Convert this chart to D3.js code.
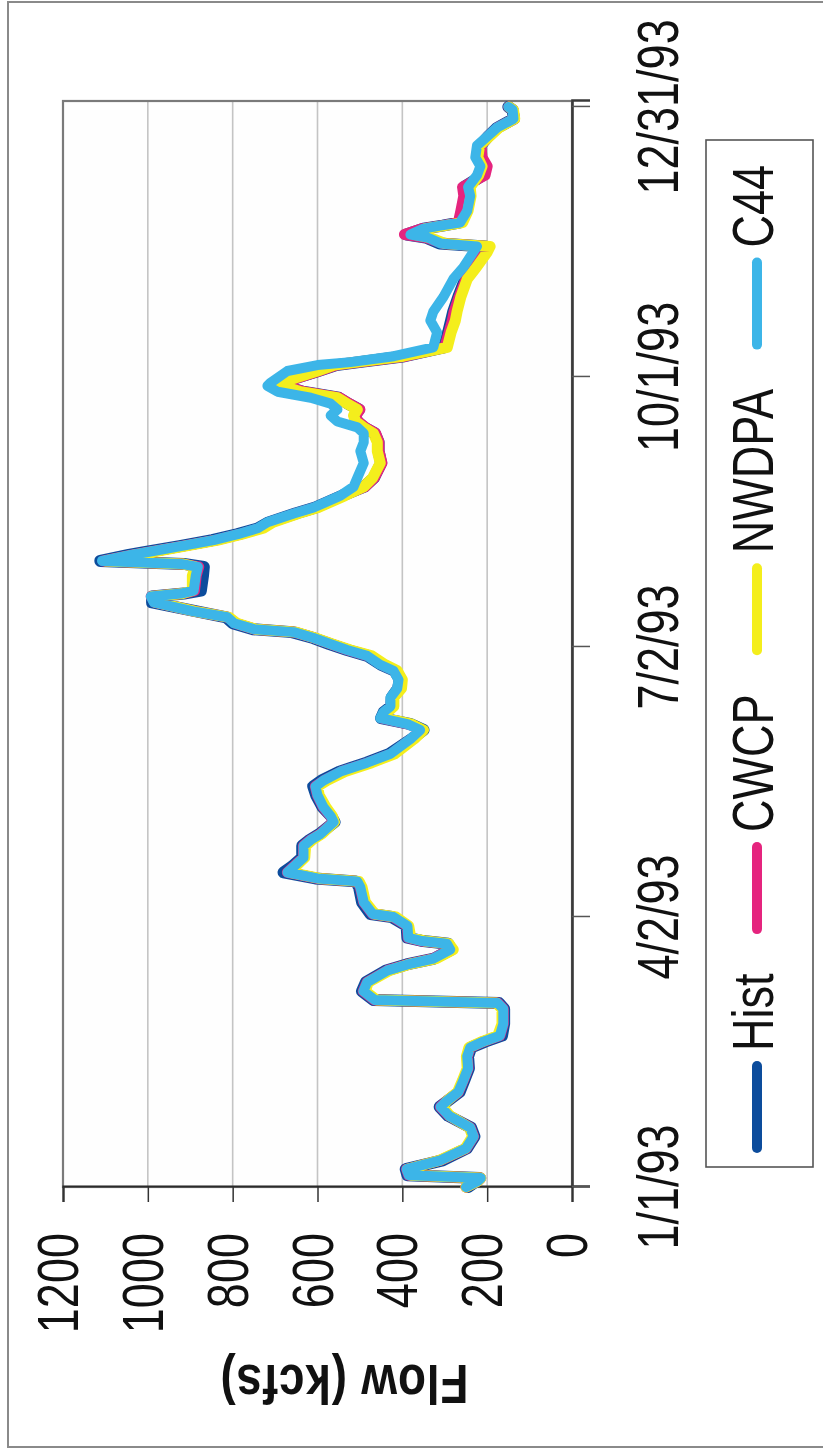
<!DOCTYPE html>
<html><head><meta charset="utf-8">
<script src="https://cdn.jsdelivr.net/npm/d3@7"></script>
<style>html,body{margin:0;padding:0;background:#fff;} svg{display:block}</style>
</head><body>
<svg id="c" width="823" height="1449"></svg>
<script>
// ---- data (day offsets from 1/1/93, flow in kcfs) ----
const dayOffsets = [
  0,2,3,4,6,9,13,17,20,24,
  27,29,32,36,40,44,47,49,51,55,
  60,62,63,66,69,73,75,77,80,82,
  83,84,88,91,92,96,101,103,104,106,
  108,111,115,117,119,123,125,128,132,135,
  137,140,143,146,151,154,156,158,160,162,
  165,168,171,174,176,179,181,183,185,187,
  188,190,192,194,197,199,200,201,206,209,
  210,211,213,214,216,218,220,222,224,227,
  229,233,236,239,244,248,251,254,256,258,
  260,262,264,266,268,270,271,275,277,278,
  280,283,288,292,295,300,306,310,315,317,
  318,320,321,323,324,325,329,334,337,341,
  344,347,351,354,357,360,363,364
];
const histValues = [
  245,225,218,388,392,305,248,230,238,292,
  312,293,265,254,243,245,238,205,165,160,
  160,172,468,495,486,438,390,325,285,292,
  356,388,390,425,475,495,502,510,605,680,
  660,636,636,618,595,560,568,588,603,610,
  590,548,484,430,378,350,380,450,444,426,
  425,410,406,418,450,482,530,572,610,660,
  752,800,815,885,990,990,915,875,870,868,
  915,1112,1045,1005,925,848,790,740,715,652,
  605,542,490,467,450,456,456,465,490,506,
  512,502,528,550,635,680,688,598,556,502,
  395,302,292,285,280,268,252,232,210,205,
  312,345,390,350,305,266,258,252,255,210,
  205,215,216,198,176,137,140,150
];
const cwcpValues = [
  250,222,215,385,390,310,250,232,240,290,
  310,295,268,256,245,247,240,209,170,162,
  162,175,465,492,483,435,388,327,287,295,
  358,386,388,421,470,491,499,506,600,671,
  656,633,633,616,593,562,569,586,600,605,
  584,543,480,425,378,355,385,448,441,424,
  424,408,405,417,448,480,528,568,607,654,
  748,794,810,888,983,992,918,890,886,880,
  920,1105,1036,996,918,840,782,735,712,650,
  603,540,488,466,448,455,455,463,487,505,
  510,500,525,548,632,676,684,596,555,500,
  392,300,290,282,278,266,250,230,206,198,
  305,345,395,352,305,268,262,255,258,205,
  200,212,215,198,175,136,139,149
];
const nwdpaValues = [
  250,222,215,380,388,312,252,234,242,288,
  305,295,270,258,247,249,243,212,175,165,
  165,178,460,488,480,430,385,320,280,290,
  350,380,385,415,465,487,495,502,595,665,
  652,630,628,612,590,560,565,580,596,600,
  578,535,472,418,372,350,378,440,436,420,
  420,402,400,412,440,472,522,565,605,650,
  745,790,808,888,980,990,918,895,895,888,
  918,1100,1030,990,912,835,778,728,705,645,
  598,535,491,470,452,459,459,468,491,510,
  515,506,530,553,640,682,690,600,560,506,
  398,294,285,275,271,262,247,225,200,193,
  300,335,370,345,300,258,245,238,240,220,
  212,222,218,195,172,135,138,148
];
const c44Values = [
  250,222,215,385,390,310,250,232,240,290,
  310,295,268,256,245,247,240,209,170,162,
  162,175,465,492,483,435,388,327,287,295,
  358,386,388,421,470,491,499,506,600,671,
  656,633,633,616,593,562,569,586,600,605,
  586,546,483,428,381,358,388,452,445,428,
  428,412,409,421,452,483,530,570,609,656,
  750,797,812,892,986,993,922,892,887,882,
  922,1108,1040,1000,922,845,788,741,718,656,
  609,546,515,506,491,499,491,491,506,553,
  569,553,569,616,694,718,711,671,600,522,
  420,327,318,334,327,303,280,256,233,224,
  310,341,381,350,310,264,247,240,245,224,
  216,228,224,200,177,138,140,150
];
const seriesNames = ["Hist", "CWCP", "NWDPA", "C44"];
const seriesColors = ["#0c4c9c", "#e5247e", "#f4ee1c", "#3cb5e8"];
const flowTicks = [0, 200, 400, 600, 800, 1000, 1200];
const dateTickLabels = ["1/1/93", "4/2/93", "7/2/93", "10/1/93", "12/31/93"];
const yAxisTitle = "Flow (kcfs)";

// ---- layout (drawn in landscape, then rotated -90deg) ----
const W = 1449, H = 823;
const plot = {left: 262, right: 1348, top: 63, bottom: 572};
const FONT = "'Liberation Sans', Arial, Helvetica, sans-serif";
const SQ = 0.79; // condensed type

const svg = d3.select("#c");
svg.append("rect").attr("width", 823).attr("height", 1449).attr("fill", "#fff");
const root = svg.append("g").attr("transform", `translate(0,${W}) rotate(-90)`);

// outer frame
root.append("rect").attr("x", 2).attr("y", 8).attr("width", 1445).attr("height", 840)
  .attr("fill", "none").attr("stroke", "#8a8a8a").attr("stroke-width", 2);

const parseDate = d3.timeParse("%m/%d/%y");
const start = new Date(1993, 0, 1);
const x = d3.scaleTime().domain([start, new Date(1994, 0, 2)]).range([plot.left, plot.right]);
const y = d3.scaleLinear().domain([0, 1200]).range([plot.bottom, plot.top]);

// plot background + gridlines
root.append("rect").attr("x", plot.left).attr("y", plot.top)
  .attr("width", plot.right - plot.left).attr("height", plot.bottom - plot.top)
  .attr("fill", "#fefefe");
root.append("g").selectAll("line").data(flowTicks.filter(t => t > 0 && t < 1200)).join("line")
  .attr("x1", plot.left).attr("x2", plot.right)
  .attr("y1", d => y(d)).attr("y2", d => y(d))
  .attr("stroke", "#c4c4c4").attr("stroke-width", 1.6);
root.append("rect").attr("x", plot.left).attr("y", plot.top)
  .attr("width", plot.right - plot.left).attr("height", plot.bottom - plot.top)
  .attr("fill", "none").attr("stroke", "#7a7a7a").attr("stroke-width", 2.2);

// axes
const yAxis = d3.axisLeft(y).tickValues(flowTicks).tickSize(15).tickFormat("");
const gy = root.append("g").attr("transform", `translate(${plot.left},0)`).call(yAxis);
gy.select(".domain").attr("stroke", "#2a2a2a").attr("stroke-width", 2.2);
gy.selectAll(".tick line").attr("stroke", "#333").attr("stroke-width", 1.5);

const dateTicks = dateTickLabels.map(parseDate);
const xAxis = d3.axisBottom(x).tickValues(dateTicks).tickSize(18).tickFormat("");
const gx = root.append("g").attr("transform", `translate(0,${plot.bottom})`).call(xAxis);
gx.select(".domain").attr("stroke", "#3a3a3a").attr("stroke-width", 2.6);
gx.selectAll(".tick line").attr("stroke", "#555").attr("stroke-width", 1.5);

function ctext(parent, tx, ty, str, size, anchor, opts = {}) {
  const g = parent.append("g").attr("transform", `translate(${tx},${ty})` + (opts.rotate ? ` rotate(${opts.rotate})` : ""));
  const t = g.append("text").attr("transform", `scale(${opts.sq || SQ},1)`)
    .attr("text-anchor", anchor).attr("font-family", FONT).attr("font-size", size)
    .attr("font-weight", opts.bold ? "bold" : "normal").attr("fill", "#111").text(str);
  return t;
}

// tick labels
flowTicks.forEach(v => ctext(root, 216, y(v) + 15, String(v), 57, "end"));
dateTickLabels.forEach((s, i) => ctext(root, x(dateTicks[i]), 678, s, 57, "middle"));

// axis title
ctext(root, 84, 344, yAxisTitle, 56, "middle", {rotate: -90, bold: true, sq: 0.82})
  .attr("letter-spacing", 1);

// series
const seriesValues = [histValues, cwcpValues, nwdpaValues, c44Values];
const widths = [12, 11, 11, 10];
const line = d3.line().x(d => x(d.date)).y(d => y(d.v));
seriesValues.forEach((vals, k) => {
  const data = dayOffsets.map((d, i) => ({date: d3.timeDay.offset(start, d), v: vals[i]}));
  root.append("path").datum(data).attr("d", line).attr("fill", "none")
    .attr("stroke", seriesColors[k]).attr("stroke-width", widths[k])
    .attr("stroke-linejoin", "round").attr("stroke-linecap", "round");
});

// legend
const leg = {x0: 282, x1: 1309, y0: 706, y1: 813};
root.append("rect").attr("x", leg.x0).attr("y", leg.y0).attr("width", leg.x1 - leg.x0)
  .attr("height", leg.y1 - leg.y0).attr("fill", "#fff").attr("stroke", "#555").attr("stroke-width", 1.6);
const legG = root.append("g");
const markerLen = 92, textGap = 10, legStart = 296, legEnd = 1284;
const temp = seriesNames.map(n => {
  const t = ctext(legG, 0, -1000, n, 57, "start");
  const w = t.node().getComputedTextLength() * SQ;
  t.node().parentNode.remove();
  return w;
});
const total = temp.reduce((a, b) => a + b, 0) + seriesNames.length * (markerLen + textGap);
const itemGap = (legEnd - legStart - total) / (seriesNames.length - 1);
let cx = legStart;
seriesNames.forEach((n, k) => {
  legG.append("line").attr("x1", cx + 5).attr("x2", cx + markerLen - 5)
    .attr("y1", 757).attr("y2", 757).attr("stroke", seriesColors[k])
    .attr("stroke-width", 10).attr("stroke-linecap", "round");
  ctext(legG, cx + markerLen + textGap, 773, n, 57, "start");
  cx += markerLen + textGap + temp[k] + itemGap;
});
</script>
</body></html>
